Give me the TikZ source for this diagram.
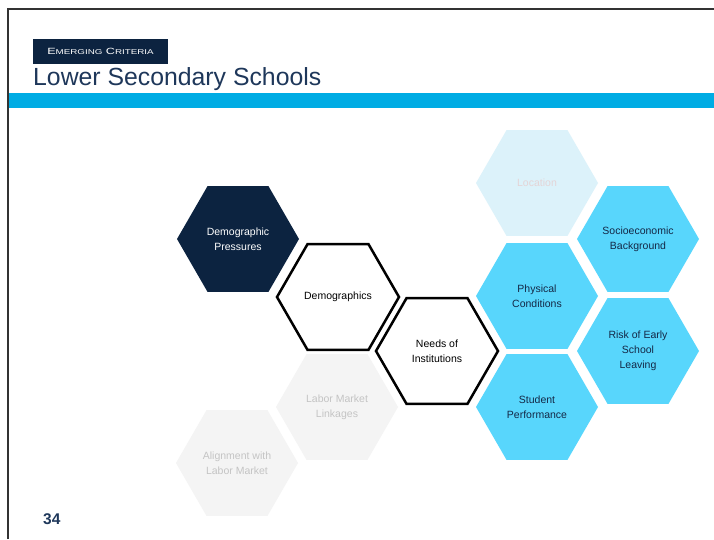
\documentclass[tikz,border=0pt]{standalone}
\usepackage{fontspec}
\setmainfont{Liberation Sans}
\newfontfamily\widefont[FakeStretch=1.4]{Liberation Sans}
\usetikzlibrary{shapes.geometric}
\definecolor{navy}{RGB}{12,35,64}
\definecolor{titleblue}{RGB}{30,55,90}
\definecolor{bandblue}{RGB}{0,172,228}
\definecolor{hexblue}{RGB}{88,214,252}
\definecolor{hexpale}{RGB}{220,242,250}
\definecolor{paletext}{RGB}{228,212,214}
\definecolor{hexgrey}{RGB}{244,244,244}
\definecolor{greytext}{RGB}{196,196,196}
\definecolor{hextext}{RGB}{20,40,70}
\begin{document}
\begin{tikzpicture}[x=1pt, y=-1pt]
  \tikzstyle{hex}=[shape=regular polygon, regular polygon sides=6, minimum size=122pt,
                   inner sep=0pt, align=center, font=\fontsize{10.5}{15}\selectfont]
  \tikzstyle{hexdark}=[hex, fill=navy, text=white]
  \tikzstyle{hexline}=[hex, minimum size=122pt, fill=white, draw=black, line width=2.5pt]
  \tikzstyle{hexcyan}=[hex, fill=hexblue, text=hextext]
  \tikzstyle{hexpale}=[hex, fill=hexpale, text=paletext]
  \tikzstyle{hexgrey}=[hex, fill=hexgrey, text=greytext]
  \useasboundingbox (0,0) rectangle (714,539);
  \fill[white] (0,0) rectangle (714,539);
  % frame and header
  \draw[line width=2pt, black!80] (8,539) -- (8,9) -- (714,9);
  \fill[bandblue] (9,93) rectangle (714,108);
  \node[fill=navy, minimum width=135pt, minimum height=25pt, inner sep=0pt, text=white]
    (label) at (100.5,51.5)
    {\widefont\fontsize{9}{9}\selectfont E{\fontsize{7}{7}\selectfont MERGING}
     C{\fontsize{7}{7}\selectfont RITERIA}};
  \node[anchor=base west, inner sep=0pt, text=titleblue, font=\fontsize{24.8}{28}\selectfont]
    (title) at (33,85) {Lower Secondary Schools};
  \node[anchor=base west, inner sep=0pt, text=titleblue, font=\bfseries\fontsize{15.5}{18}\selectfont]
    (page) at (43,524) {34};
  % faded hexagons
  \node[hexgrey] (alignment) at (237,463) {Alignment with\\Labor Market};
  \node[hexgrey] (linkages) at (337,407) {Labor Market\\Linkages};
  \node[hexpale] (location) at (537,183) {Location};
  % main path
  \node[hexdark] (pressures) at (238,239) {Demographic\\Pressures};
  \node[hexline] (demog) at (338,297) {Demographics};
  \node[hexline] (needs) at (437,351) {Needs of\\Institutions};
  % criteria
  \node[hexcyan] (physical) at (537,296) {Physical\\Conditions};
  \node[hexcyan] (student) at (537,407) {Student\\Performance};
  \node[hexcyan] (socio) at (638,239) {Socioeconomic\\Background};
  \node[hexcyan] (risk) at (638,351) {Risk of Early\\School\\Leaving};
\end{tikzpicture}
\end{document}
